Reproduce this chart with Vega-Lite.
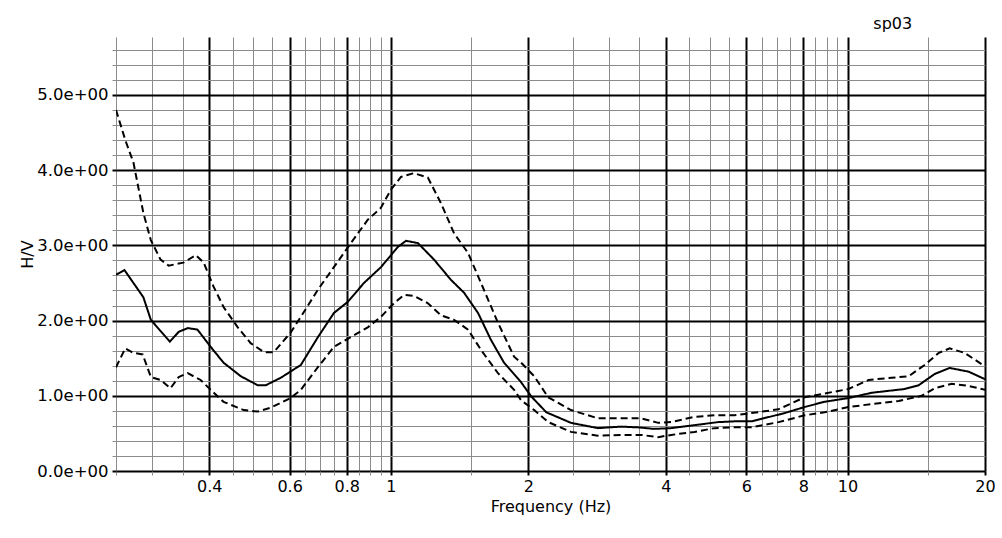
{
  "$schema": "https://vega.github.io/schema/vega-lite/v6.json",
  "width": 869,
  "height": 434,
  "autosize": {"type": "none"},
  "padding": {"left": 116, "top": 37, "right": 17, "bottom": 67},
  "background": "white",
  "view": {"stroke": null},
  "config": {"font": "DejaVu Sans"},
  "title": {"text": "sp03", "anchor": "end", "dx": -83, "offset": 5, "fontSize": 16, "fontWeight": "normal", "color": "black", "font": "DejaVu Sans"},
  "datasets": {
    "curves": [
      {"f": 0.25, "v": 2.61, "s": "mean"}, {"f": 0.261, "v": 2.67, "s": "mean"}, {"f": 0.287, "v": 2.31, "s": "mean"}, {"f": 0.298, "v": 2.01, "s": "mean"}, {"f": 0.328, "v": 1.72, "s": "mean"}, {"f": 0.343, "v": 1.85, "s": "mean"}, {"f": 0.359, "v": 1.9, "s": "mean"}, {"f": 0.377, "v": 1.88, "s": "mean"}, {"f": 0.403, "v": 1.65, "s": "mean"}, {"f": 0.43, "v": 1.44, "s": "mean"}, {"f": 0.469, "v": 1.26, "s": "mean"}, {"f": 0.511, "v": 1.14, "s": "mean"}, {"f": 0.532, "v": 1.14, "s": "mean"}, {"f": 0.574, "v": 1.24, "s": "mean"}, {"f": 0.635, "v": 1.41, "s": "mean"}, {"f": 0.692, "v": 1.78, "s": "mean"}, {"f": 0.75, "v": 2.1, "s": "mean"}, {"f": 0.805, "v": 2.25, "s": "mean"}, {"f": 0.873, "v": 2.5, "s": "mean"}, {"f": 0.951, "v": 2.71, "s": "mean"}, {"f": 1.036, "v": 2.98, "s": "mean"}, {"f": 1.079, "v": 3.06, "s": "mean"}, {"f": 1.146, "v": 3.03, "s": "mean"}, {"f": 1.243, "v": 2.81, "s": "mean"}, {"f": 1.354, "v": 2.54, "s": "mean"}, {"f": 1.446, "v": 2.37, "s": "mean"}, {"f": 1.552, "v": 2.1, "s": "mean"}, {"f": 1.657, "v": 1.74, "s": "mean"}, {"f": 1.769, "v": 1.44, "s": "mean"}, {"f": 1.928, "v": 1.18, "s": "mean"}, {"f": 2.03, "v": 0.99, "s": "mean"}, {"f": 2.19, "v": 0.78, "s": "mean"}, {"f": 2.48, "v": 0.64, "s": "mean"}, {"f": 2.84, "v": 0.57, "s": "mean"}, {"f": 3.19, "v": 0.59, "s": "mean"}, {"f": 3.48, "v": 0.58, "s": "mean"}, {"f": 3.77, "v": 0.56, "s": "mean"}, {"f": 4.11, "v": 0.57, "s": "mean"}, {"f": 4.62, "v": 0.61, "s": "mean"}, {"f": 5.21, "v": 0.65, "s": "mean"}, {"f": 5.65, "v": 0.66, "s": "mean"}, {"f": 6.16, "v": 0.66, "s": "mean"}, {"f": 7.28, "v": 0.77, "s": "mean"}, {"f": 8.05, "v": 0.85, "s": "mean"}, {"f": 8.9, "v": 0.92, "s": "mean"}, {"f": 10.05, "v": 0.97, "s": "mean"}, {"f": 11.29, "v": 1.04, "s": "mean"}, {"f": 13.34, "v": 1.09, "s": "mean"}, {"f": 14.31, "v": 1.14, "s": "mean"}, {"f": 15.52, "v": 1.29, "s": "mean"}, {"f": 16.74, "v": 1.37, "s": "mean"}, {"f": 18.43, "v": 1.32, "s": "mean"}, {"f": 20, "v": 1.22, "s": "mean"},
      {"f": 0.25, "v": 4.8, "s": "upper"}, {"f": 0.262, "v": 4.4, "s": "upper"}, {"f": 0.273, "v": 4.1, "s": "upper"}, {"f": 0.287, "v": 3.43, "s": "upper"}, {"f": 0.298, "v": 3.07, "s": "upper"}, {"f": 0.313, "v": 2.81, "s": "upper"}, {"f": 0.326, "v": 2.73, "s": "upper"}, {"f": 0.351, "v": 2.77, "s": "upper"}, {"f": 0.374, "v": 2.87, "s": "upper"}, {"f": 0.389, "v": 2.77, "s": "upper"}, {"f": 0.409, "v": 2.45, "s": "upper"}, {"f": 0.43, "v": 2.18, "s": "upper"}, {"f": 0.462, "v": 1.91, "s": "upper"}, {"f": 0.493, "v": 1.7, "s": "upper"}, {"f": 0.527, "v": 1.58, "s": "upper"}, {"f": 0.554, "v": 1.58, "s": "upper"}, {"f": 0.603, "v": 1.84, "s": "upper"}, {"f": 0.635, "v": 2.05, "s": "upper"}, {"f": 0.692, "v": 2.41, "s": "upper"}, {"f": 0.75, "v": 2.71, "s": "upper"}, {"f": 0.817, "v": 3.03, "s": "upper"}, {"f": 0.89, "v": 3.34, "s": "upper"}, {"f": 0.951, "v": 3.5, "s": "upper"}, {"f": 1.0, "v": 3.74, "s": "upper"}, {"f": 1.052, "v": 3.91, "s": "upper"}, {"f": 1.123, "v": 3.96, "s": "upper"}, {"f": 1.205, "v": 3.9, "s": "upper"}, {"f": 1.287, "v": 3.56, "s": "upper"}, {"f": 1.375, "v": 3.16, "s": "upper"}, {"f": 1.475, "v": 2.9, "s": "upper"}, {"f": 1.575, "v": 2.5, "s": "upper"}, {"f": 1.716, "v": 1.97, "s": "upper"}, {"f": 1.861, "v": 1.52, "s": "upper"}, {"f": 1.928, "v": 1.44, "s": "upper"}, {"f": 2.06, "v": 1.26, "s": "upper"}, {"f": 2.21, "v": 0.98, "s": "upper"}, {"f": 2.48, "v": 0.81, "s": "upper"}, {"f": 2.84, "v": 0.7, "s": "upper"}, {"f": 3.19, "v": 0.7, "s": "upper"}, {"f": 3.53, "v": 0.7, "s": "upper"}, {"f": 3.85, "v": 0.64, "s": "upper"}, {"f": 4.11, "v": 0.65, "s": "upper"}, {"f": 4.62, "v": 0.72, "s": "upper"}, {"f": 5.11, "v": 0.74, "s": "upper"}, {"f": 5.65, "v": 0.74, "s": "upper"}, {"f": 6.16, "v": 0.77, "s": "upper"}, {"f": 7.06, "v": 0.82, "s": "upper"}, {"f": 7.54, "v": 0.9, "s": "upper"}, {"f": 8.05, "v": 0.98, "s": "upper"}, {"f": 8.9, "v": 1.03, "s": "upper"}, {"f": 10.05, "v": 1.09, "s": "upper"}, {"f": 11.12, "v": 1.21, "s": "upper"}, {"f": 12.49, "v": 1.24, "s": "upper"}, {"f": 13.61, "v": 1.26, "s": "upper"}, {"f": 14.75, "v": 1.41, "s": "upper"}, {"f": 15.84, "v": 1.57, "s": "upper"}, {"f": 16.74, "v": 1.63, "s": "upper"}, {"f": 18.06, "v": 1.57, "s": "upper"}, {"f": 20, "v": 1.39, "s": "upper"},
      {"f": 0.25, "v": 1.38, "s": "lower"}, {"f": 0.262, "v": 1.63, "s": "lower"}, {"f": 0.273, "v": 1.57, "s": "lower"}, {"f": 0.286, "v": 1.55, "s": "lower"}, {"f": 0.298, "v": 1.25, "s": "lower"}, {"f": 0.313, "v": 1.21, "s": "lower"}, {"f": 0.329, "v": 1.1, "s": "lower"}, {"f": 0.343, "v": 1.25, "s": "lower"}, {"f": 0.359, "v": 1.3, "s": "lower"}, {"f": 0.383, "v": 1.21, "s": "lower"}, {"f": 0.403, "v": 1.08, "s": "lower"}, {"f": 0.43, "v": 0.92, "s": "lower"}, {"f": 0.476, "v": 0.81, "s": "lower"}, {"f": 0.511, "v": 0.79, "s": "lower"}, {"f": 0.545, "v": 0.84, "s": "lower"}, {"f": 0.603, "v": 0.97, "s": "lower"}, {"f": 0.635, "v": 1.08, "s": "lower"}, {"f": 0.692, "v": 1.38, "s": "lower"}, {"f": 0.75, "v": 1.65, "s": "lower"}, {"f": 0.817, "v": 1.78, "s": "lower"}, {"f": 0.89, "v": 1.91, "s": "lower"}, {"f": 0.951, "v": 2.05, "s": "lower"}, {"f": 1.015, "v": 2.23, "s": "lower"}, {"f": 1.068, "v": 2.34, "s": "lower"}, {"f": 1.123, "v": 2.33, "s": "lower"}, {"f": 1.205, "v": 2.23, "s": "lower"}, {"f": 1.287, "v": 2.07, "s": "lower"}, {"f": 1.375, "v": 2.01, "s": "lower"}, {"f": 1.475, "v": 1.88, "s": "lower"}, {"f": 1.575, "v": 1.61, "s": "lower"}, {"f": 1.716, "v": 1.3, "s": "lower"}, {"f": 1.861, "v": 1.08, "s": "lower"}, {"f": 1.928, "v": 0.94, "s": "lower"}, {"f": 2.06, "v": 0.81, "s": "lower"}, {"f": 2.21, "v": 0.65, "s": "lower"}, {"f": 2.48, "v": 0.52, "s": "lower"}, {"f": 2.84, "v": 0.47, "s": "lower"}, {"f": 3.19, "v": 0.48, "s": "lower"}, {"f": 3.53, "v": 0.48, "s": "lower"}, {"f": 3.85, "v": 0.45, "s": "lower"}, {"f": 4.11, "v": 0.48, "s": "lower"}, {"f": 4.62, "v": 0.52, "s": "lower"}, {"f": 5.11, "v": 0.57, "s": "lower"}, {"f": 5.65, "v": 0.58, "s": "lower"}, {"f": 6.16, "v": 0.58, "s": "lower"}, {"f": 7.06, "v": 0.65, "s": "lower"}, {"f": 8.05, "v": 0.74, "s": "lower"}, {"f": 8.9, "v": 0.78, "s": "lower"}, {"f": 10.05, "v": 0.85, "s": "lower"}, {"f": 11.29, "v": 0.89, "s": "lower"}, {"f": 12.94, "v": 0.93, "s": "lower"}, {"f": 14.53, "v": 1.0, "s": "lower"}, {"f": 15.52, "v": 1.1, "s": "lower"}, {"f": 16.91, "v": 1.16, "s": "lower"}, {"f": 18.43, "v": 1.13, "s": "lower"}, {"f": 20, "v": 1.08, "s": "lower"}
    ]
  },
  "data": {"name": "curves"},
  "mark": {"type": "line", "color": "black", "strokeWidth": 2, "clip": true},
  "encoding": {
    "x": {
      "field": "f", "type": "quantitative",
      "scale": {"type": "log", "domain": [0.25, 20], "nice": false, "zero": false},
      "axis": {
        "title": "Frequency (Hz)",
        "values": [0.25, 0.3, 0.35, 0.4, 0.45, 0.5, 0.55, 0.6, 0.65, 0.7, 0.75, 0.8, 0.85, 0.9, 0.95, 1, 1.5, 2, 2.5, 3, 3.5, 4, 4.5, 5, 5.5, 6, 6.5, 7, 7.5, 8, 8.5, 9, 9.5, 10, 15, 20],
        "domain": false,
        "grid": true,
        "gridColor": {"condition": {"test": "indexof([0.4,0.6,0.8,1,2,4,6,8,10,20], datum.value) >= 0", "value": "#000000"}, "value": "#8c8c8c"},
        "gridWidth": {"condition": {"test": "indexof([0.4,0.6,0.8,1,2,4,6,8,10,20], datum.value) >= 0", "value": 2}, "value": 1},
        "gridOpacity": 1,
        "tickColor": {"condition": {"test": "indexof([0.4,0.6,0.8,1,2,4,6,8,10,20], datum.value) >= 0", "value": "#000000"}, "value": "#8c8c8c"},
        "tickWidth": {"condition": {"test": "indexof([0.4,0.6,0.8,1,2,4,6,8,10,20], datum.value) >= 0", "value": 2}, "value": 1},
        "tickSize": 4,
        "labelExpr": "indexof([0.4,0.6,0.8,1,2,4,6,8,10,20], datum.value) >= 0 ? '' + datum.value : ''",
        "labelFont": "DejaVu Sans", "labelFontSize": 16, "labelColor": "black", "labelPadding": 3,
        "labelOverlap": false, "labelBound": false, "labelFlush": false,
        "titleFont": "DejaVu Sans", "titleFontSize": 16, "titleFontWeight": "normal", "titleColor": "black", "titlePadding": 4
      }
    },
    "y": {
      "field": "v", "type": "quantitative",
      "scale": {"domain": [0, 5.77], "nice": false, "zero": true},
      "axis": {
        "title": "H/V",
        "values": [0, 0.2, 0.4, 0.6, 0.8, 1, 1.2, 1.4, 1.6, 1.8, 2, 2.2, 2.4, 2.6, 2.8, 3, 3.2, 3.4, 3.6, 3.8, 4, 4.2, 4.4, 4.6, 4.8, 5, 5.2, 5.4, 5.6],
        "domain": false,
        "grid": true,
        "gridColor": {"condition": {"test": "abs(datum.value - round(datum.value)) < 0.01", "value": "#000000"}, "value": "#8c8c8c"},
        "gridWidth": {"condition": {"test": "abs(datum.value - round(datum.value)) < 0.01", "value": 2}, "value": 1},
        "gridOpacity": 1,
        "tickColor": {"condition": {"test": "abs(datum.value - round(datum.value)) < 0.01", "value": "#000000"}, "value": "#8c8c8c"},
        "tickWidth": {"condition": {"test": "abs(datum.value - round(datum.value)) < 0.01", "value": 2}, "value": 1},
        "tickSize": 4,
        "labelExpr": "abs(datum.value - round(datum.value)) < 0.01 ? format(datum.value, '.1f') + 'e+00' : ''",
        "labelFont": "DejaVu Sans", "labelFontSize": 16.5, "labelColor": "black", "labelPadding": 4,
        "labelOverlap": false, "labelBound": false, "labelFlush": false,
        "titleFont": "DejaVu Sans", "titleFontSize": 16, "titleFontWeight": "normal", "titleColor": "black", "titlePadding": 1
      }
    },
    "detail": {"field": "s"},
    "strokeDash": {
      "field": "s", "type": "nominal",
      "scale": {"domain": ["mean", "upper", "lower"], "range": [[1, 0], [7, 4], [7, 4]]},
      "legend": null
    }
  }
}
